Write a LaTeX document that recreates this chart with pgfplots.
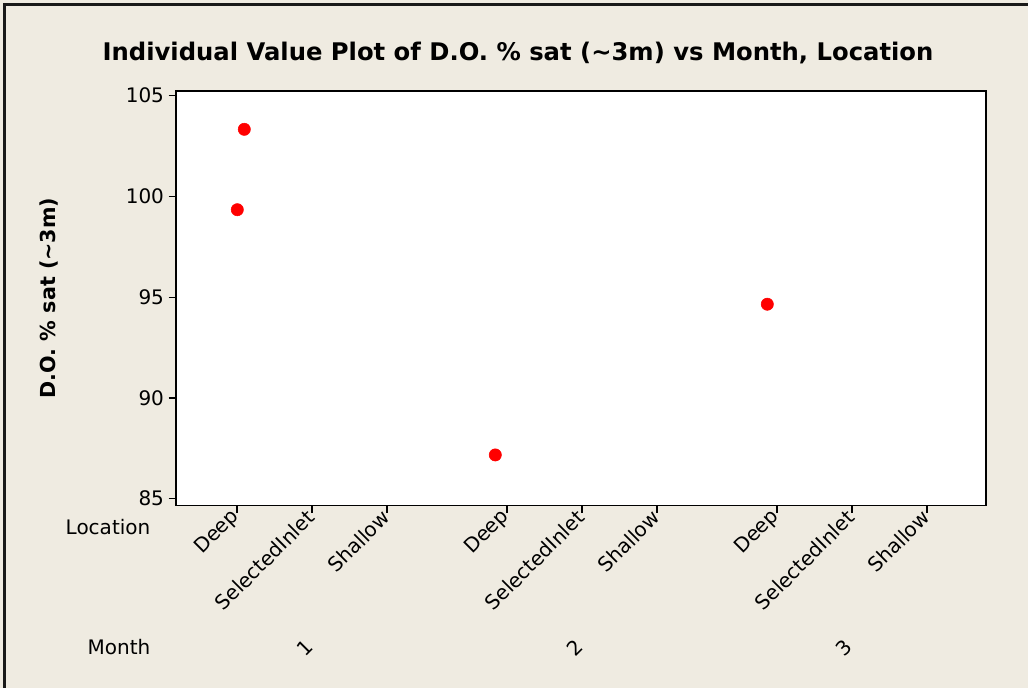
\documentclass[border=0pt]{standalone}
\usepackage{pgfplots}
\pgfplotsset{compat=1.18}
\usepackage{fontspec}
\setmainfont{DejaVu Sans}
\definecolor{bgc}{RGB}{239,235,225}
\begin{document}
\begin{tikzpicture}
\useasboundingbox (0pt,0pt) rectangle (771pt,-516pt);
\fill[bgc] (0pt,0pt) rectangle (771pt,-516pt);
\draw[line width=1.6pt, black!90] (3.4pt,-516pt) -- (3.4pt,-3.4pt) -- (771pt,-3.4pt);
\node[font=\bfseries\fontsize{18.2}{22}\selectfont] at (388.5pt,-39.75pt) {Individual Value Plot of D.O. \% sat (\char"007E 3m) vs Month, Location};
\node[font=\bfseries\fontsize{15.5}{18}\selectfont, rotate=90] at (36.75pt,-223.5pt) {D.O. \% sat (\char"007E 3m)};
\node[font=\fontsize{15}{18}\selectfont, anchor=east] at (116.25pt,-395.25pt) {Location};
\node[font=\fontsize{15}{18}\selectfont, anchor=east] at (116.25pt,-485.25pt) {Month};
\node[font=\fontsize{15}{18}\selectfont, rotate=45] at (228.75pt,-486pt) {1};
\node[font=\fontsize{15}{18}\selectfont, rotate=45] at (431.25pt,-486pt) {2};
\node[font=\fontsize{15}{18}\selectfont, rotate=45] at (633pt,-486pt) {3};
\begin{axis}[
  at={(132pt,-378.975pt)}, anchor=south west,
  scale only axis, width=607.5pt, height=310.7pt,
  xmin=176, xmax=986, ymin=84.67, ymax=105.23,
  axis background/.style={fill=white},
  axis line style={line width=1pt, black},
  xtick={237,312,387,507,582,657,777,852,927},
  xticklabels={Deep,SelectedInlet,Shallow,Deep,SelectedInlet,Shallow,Deep,SelectedInlet,Shallow},
  ytick={85,90,95,100,105},
  tick align=outside, xtick pos=bottom, ytick pos=left,
  major tick length=5.5pt,
  tick style={line width=0.9pt, black},
  xticklabel style={rotate=45, anchor=east, font=\fontsize{15}{18}\selectfont, inner sep=1pt},
  yticklabel style={font=\fontsize{15}{18}\selectfont},
  /pgf/number format/assume math mode=true,
  clip=false,
]
\addplot[only marks, mark=*, mark size=4.6pt, color=red, mark options={fill=red, draw=red}]
  coordinates {(244.3,103.33) (237.3,99.34) (495.3,87.17) (767.3,94.65)};
\end{axis}
\end{tikzpicture}
\end{document}
